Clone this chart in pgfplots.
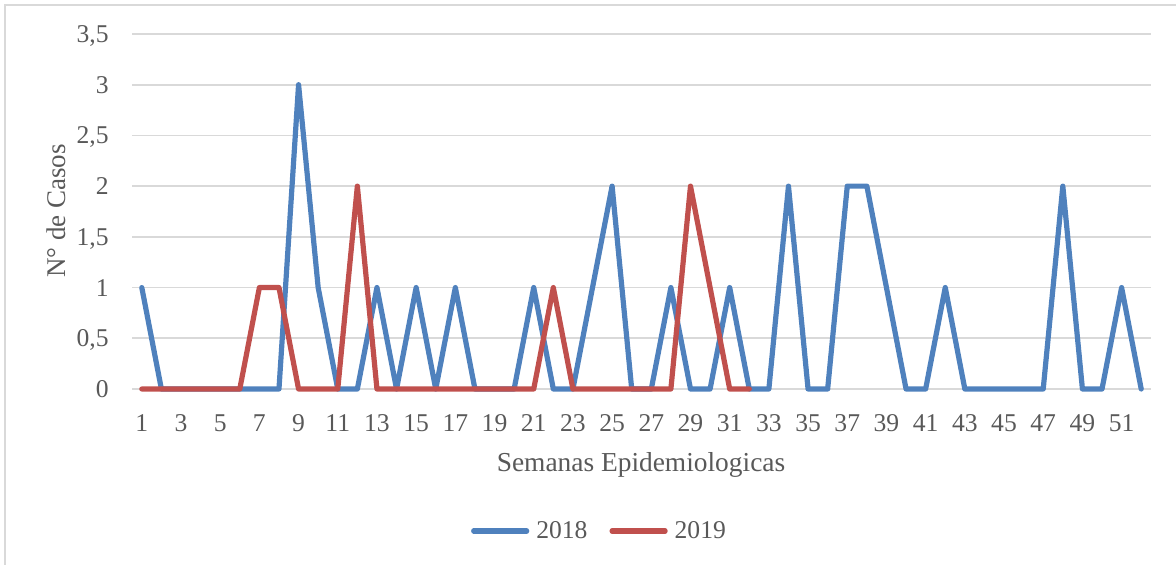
\documentclass[border=0pt]{standalone}
\usepackage{fontspec}
\setmainfont{Liberation Serif}
\usepackage{pgfplots}
\pgfplotsset{compat=1.18}
\definecolor{txt}{HTML}{595959}
\definecolor{gridc}{HTML}{D9D9D9}
\definecolor{blu}{HTML}{4F81BD}
\definecolor{rd}{HTML}{C0504D}
\begin{document}
\begin{tikzpicture}
\path[use as bounding box] (0,0) rectangle (588pt,282.5pt);
\draw[gridc, line width=1pt] (2.5pt,-2pt) -- (2.5pt,280pt) -- (590pt,280pt);
\begin{axis}[
  at={(66pt,88pt)}, anchor=south west,
  scale only axis, width=509.5pt, height=177.5pt,
  xmin=0.5, xmax=52.5, ymin=0, ymax=3.5,
  axis line style={draw=none},
  major tick length=0pt,
  xtick={1,3,...,51},
  ytick={0,0.5,1,1.5,2,2.5,3,3.5},
  yticklabels={0,{0,5},1,{1,5},2,{2,5},3,{3,5}},
  xmajorgrids=false, ymajorgrids=true,
  major grid style={draw=gridc, line width=0.9pt},
  /pgf/number format/assume math mode=true,
  tick label style={font=\fontsize{12.8}{15}\selectfont, text=txt, inner sep=0pt, text depth=0pt},
  yticklabel style={anchor=east, xshift=-11.5pt},
  xticklabel style={anchor=north, yshift=-12.5pt},
  clip=false,
  legend columns=2,
  legend style={at={(0.4578,-0.4)}, anchor=center, draw=none, fill=none,
    font=\fontsize{12.8}{15}\selectfont, text=txt, inner sep=0pt,
    nodes={inner sep=0pt},
    /tikz/every odd column/.append style={column sep=3.5pt},
    /tikz/every even column/.append style={column sep=11pt}},
  legend image code/.code={\draw[#1, line cap=round] (0pt,0pt) -- (26.5pt,0pt);},
]
\addplot[blu, line width=2.6pt, line join=round, line cap=round] coordinates {
(1,1)(2,0)(3,0)(4,0)(5,0)(6,0)(7,0)(8,0)(9,3)(10,1)(11,0)(12,0)(13,1)(14,0)(15,1)(16,0)(17,1)(18,0)(19,0)(20,0)(21,1)(22,0)(23,0)(24,1)(25,2)(26,0)(27,0)(28,1)(29,0)(30,0)(31,1)(32,0)(33,0)(34,2)(35,0)(36,0)(37,2)(38,2)(39,1)(40,0)(41,0)(42,1)(43,0)(44,0)(45,0)(46,0)(47,0)(48,2)(49,0)(50,0)(51,1)(52,0)};
\addlegendentry{2018}
\addplot[rd, line width=2.6pt, line join=round, line cap=round] coordinates {
(1,0)(2,0)(3,0)(4,0)(5,0)(6,0)(7,1)(8,1)(9,0)(10,0)(11,0)(12,2)(13,0)(14,0)(15,0)(16,0)(17,0)(18,0)(19,0)(20,0)(21,0)(22,1)(23,0)(24,0)(25,0)(26,0)(27,0)(28,0)(29,2)(30,1)(31,0)(32,0)};
\addlegendentry{2019}
\end{axis}
\node[rotate=90, anchor=base, text=txt, font=\fontsize{13.5}{16}\selectfont, inner sep=0pt] at (32.5pt,177pt) {N° de Casos};
\node[anchor=base, text=txt, font=\fontsize{13.7}{16}\selectfont, inner sep=0pt] at (320.5pt,46.5pt) {Semanas Epidemiologicas};
\end{tikzpicture}
\end{document}
